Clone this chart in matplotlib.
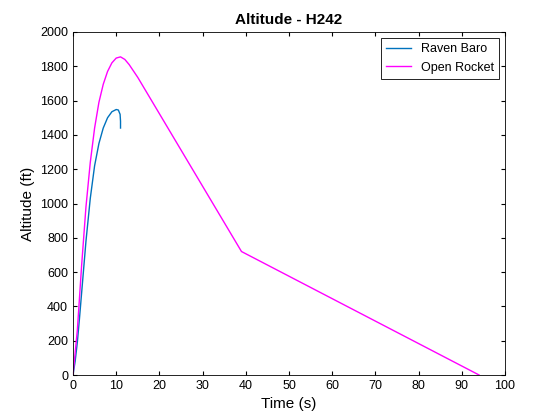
import matplotlib
matplotlib.use("Agg")
import matplotlib.pyplot as plt

plt.rcParams['font.family'] = ['Liberation Sans', 'DejaVu Sans']

raven_t = [0, 0.5, 1, 1.5, 2, 3, 4, 5, 6, 7, 8, 9, 10, 10.5, 10.9, 11.0, 11.0]
raven_alt = [0, 80, 190, 330, 480, 780, 1030, 1220, 1350, 1440, 1500, 1535, 1548, 1545, 1520, 1480, 1440]
or_t = [0, 1, 2, 3, 4, 5, 6, 7, 8, 9, 10, 11, 12, 13, 15, 39, 94]
or_alt = [0, 260, 640, 980, 1240, 1440, 1590, 1695, 1770, 1820, 1848, 1855, 1840, 1810, 1735, 720, 0]

fig = plt.figure(figsize=(5.6, 4.2), dpi=100)
ax = fig.add_axes([73/560, 1-375/420, (505-73)/560, (375-32)/420])
ax.plot(raven_t, raven_alt, color='#0072BD', lw=1, label='Raven Baro')
ax.plot(or_t, or_alt, color='#FF00FF', lw=1, label='Open Rocket')
ax.set_xlim(0, 100)
ax.set_ylim(0, 2000)
ax.set_xticks(range(0, 101, 10))
ax.set_yticks(range(0, 2001, 200))
ax.tick_params(labelsize=9, direction='in', length=3, top=True, right=True)
ax.set_xlabel('Time (s)', fontsize=11)
ax.set_ylabel('Altitude (ft)', fontsize=11)
ax.set_title('Altitude - H242', fontsize=11, fontweight='bold')
leg = ax.legend(loc='upper right', fontsize=9, fancybox=False, edgecolor='black', framealpha=1)
leg.get_frame().set_linewidth(0.6)
for s in ax.spines.values():
    s.set_linewidth(0.6)
fig.savefig('out.png', dpi=100)
